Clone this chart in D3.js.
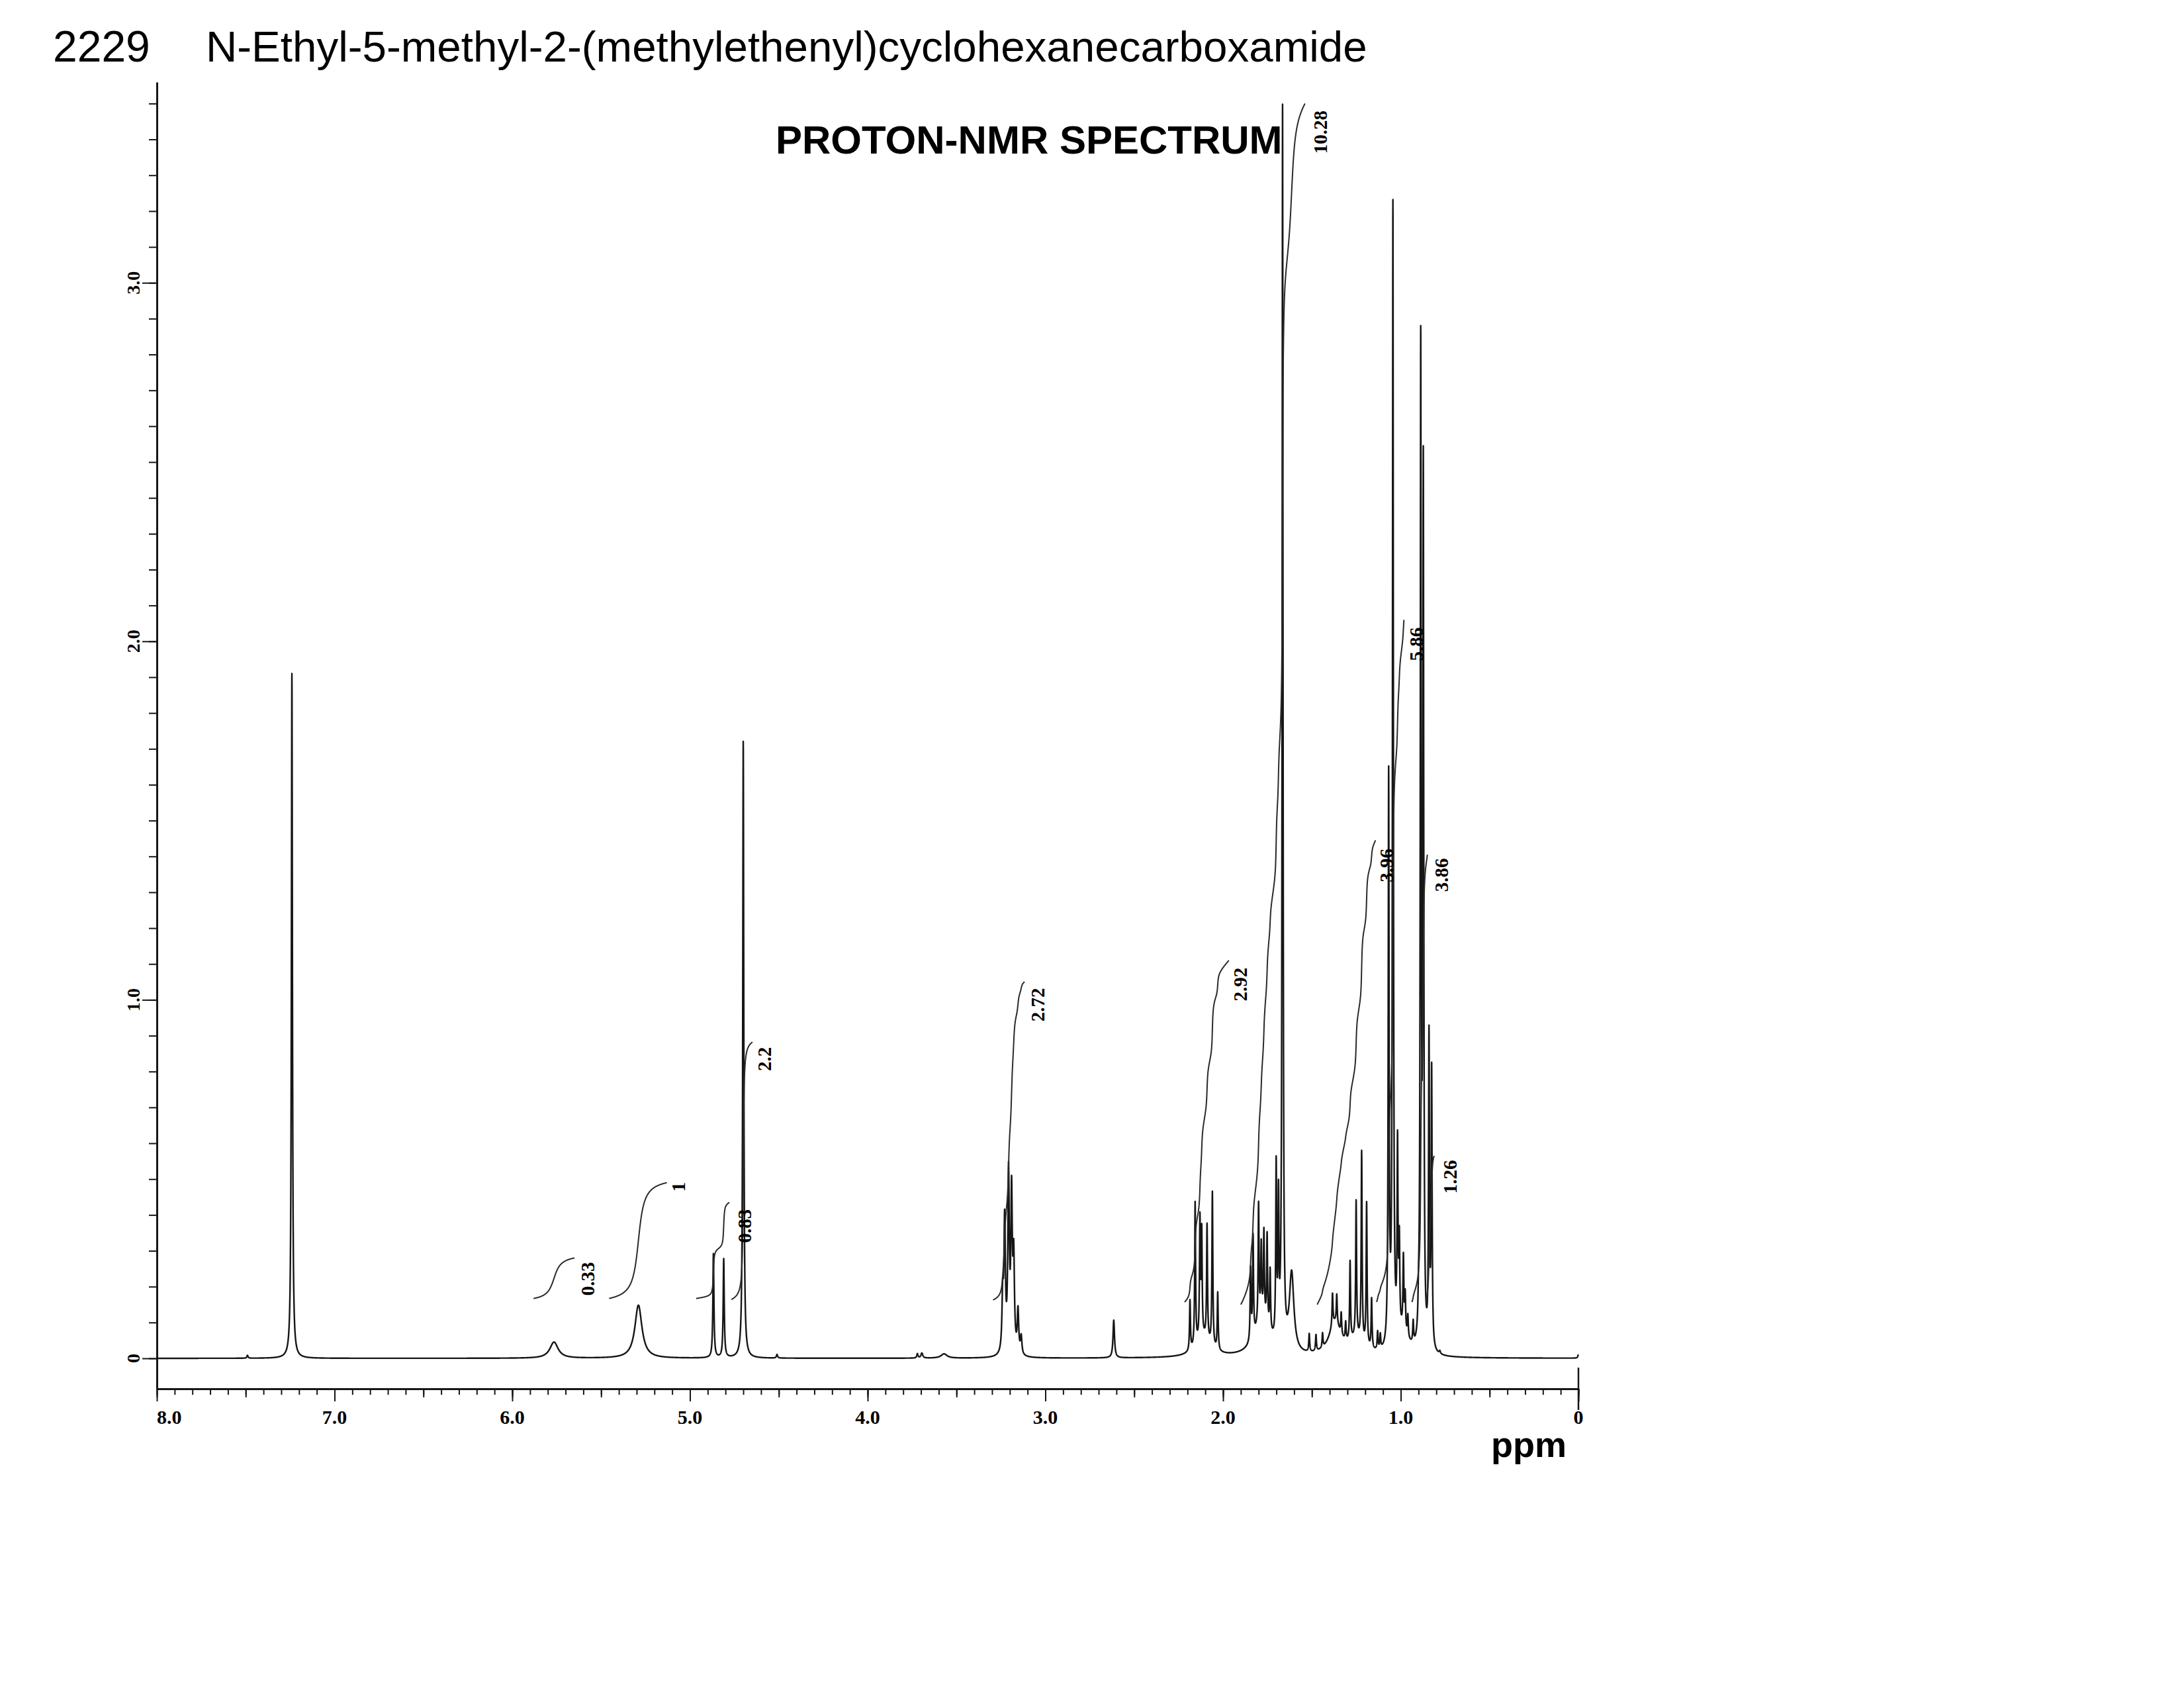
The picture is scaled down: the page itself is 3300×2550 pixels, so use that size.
<!DOCTYPE html>
<html>
<head>
<meta charset="utf-8">
<script src="https://cdn.jsdelivr.net/npm/d3@7"></script>
<style>
  body { margin: 0; background: #fff; }
  svg { display: block; }
</style>
</head>
<body>
<div id="chart"></div>
<script>
const width = 3300;
const height = 2550;

// --- data ---
const compoundId = "2229";
const compoundName = "N-Ethyl-5-methyl-2-(methylethenyl)cyclohexanecarboxamide";
const spectrumTitle = "PROTON-NMR SPECTRUM";
const unitLabel = "ppm";

// peak list: position (ppm), height (intensity units), half width (ppm)
const peakPpm = [7.49, 7.24, 5.765, 5.29, 4.868, 4.81, 4.70, 4.51, 3.72, 3.695, 3.57,
  3.24, 3.229, 3.207, 3.19, 3.178, 3.154, 3.136, 2.615,
  2.186, 2.157, 2.13, 2.12, 2.09, 2.06, 2.03, 2.11,
  1.845, 1.831, 1.80, 1.785, 1.77, 1.752, 1.735, 1.78, 1.701, 1.688, 1.665, 1.614,
  1.515, 1.477, 1.44, 1.384, 1.36, 1.335, 1.31, 1.37,
  1.285, 1.251, 1.22, 1.192, 1.164, 1.25, 1.13, 1.115,
  1.068, 1.044, 1.018, 1.008, 0.985, 0.975, 0.96, 0.93, 0.90, 0.99,
  0.8875, 0.873, 0.841, 0.826, 0.78, 0.0];
const peakHeight = [0.008, 1.91, 0.045, 0.148, 0.29, 0.275, 1.72, 0.01, 0.012, 0.014, 0.012,
  0.15, 0.36, 0.49, 0.43, 0.25, 0.12, 0.05, 0.105,
  0.14, 0.40, 0.33, 0.29, 0.32, 0.43, 0.16, 0.05,
  0.2, 0.28, 0.33, 0.20, 0.24, 0.25, 0.17, 0.10, 0.48, 0.38, 3.45, 0.22,
  0.05, 0.045, 0.04, 0.09, 0.08, 0.06, 0.05, 0.09,
  0.22, 0.38, 0.53, 0.40, 0.14, 0.04, 0.05, 0.04,
  1.58, 3.17, 0.52, 0.24, 0.2, 0.1, 0.06, 0.06, 0.06, 0.06,
  2.76, 2.41, 0.86, 0.77, 0.008, 0.01];
const peakHalfWidth = [0.004, 0.0035, 0.028, 0.024, 0.0035, 0.0035, 0.0035, 0.004, 0.004, 0.006, 0.02,
  0.0048, 0.0048, 0.0048, 0.0048, 0.0048, 0.0048, 0.0048, 0.005,
  0.003, 0.003, 0.003, 0.003, 0.003, 0.003, 0.003, 0.05,
  0.003, 0.003, 0.003, 0.003, 0.003, 0.003, 0.003, 0.05, 0.003, 0.003, 0.003, 0.015,
  0.003, 0.003, 0.003, 0.003, 0.003, 0.003, 0.003, 0.04,
  0.003, 0.003, 0.003, 0.003, 0.003, 0.05, 0.003, 0.003,
  0.003, 0.003, 0.003, 0.003, 0.003, 0.003, 0.003, 0.003, 0.003, 0.04,
  0.003, 0.003, 0.003, 0.003, 0.004, 0.004];

// integral traces: ppm range, trace level at start and end, label and where it sits
const integralStart = [5.88, 5.455, 4.965, 4.767, 3.294, 2.216, 1.90, 1.47, 1.136, 0.937, 0.857];
const integralEnd = [5.65, 5.13, 4.778, 4.648, 3.117, 1.967, 1.539, 1.142, 0.982, 0.85, 0.812];
const integralFrom = [0.167, 0.167, 0.167, 0.164, 0.163, 0.157, 0.15, 0.15, 0.157, 0.157, 0.157];
const integralTo = [0.28, 0.49, 0.435, 0.882, 1.05, 1.11, 3.5, 1.445, 2.06, 1.405, 0.565];
const integralLabel = ["0.33", "1", "0.83", "2.2", "2.72", "2.92", "10.28", "3.96", "5.86", "3.86", "1.26"];
const integralLabelPpm = [5.575, 5.065, 4.692, 4.58, 3.043, 1.905, 1.452, 1.08, 0.912, 0.771, 0.722];
const integralLabelValue = [0.222, 0.478, 0.369, 0.835, 0.986, 1.043, 3.42, 1.375, 1.992, 1.348, 0.506];

const xMajorTicks = [8, 7, 6, 5, 4, 3, 2, 1, 0];
const xMajorLabels = ["8.0", "7.0", "6.0", "5.0", "4.0", "3.0", "2.0", "1.0", "0"];
const yMajorTicks = [0, 1, 2, 3];
const yMajorLabels = ["0", "1.0", "2.0", "3.0"];

// --- drawing ---
const sansFont = "'Liberation Sans', Arial, sans-serif";
const serifFont = "'Liberation Serif', 'Times New Roman', serif";
const ink = "#161616";

const svg = d3.select('#chart')
              .append('svg')
              .attr('width', width)
              .attr('height', height);
svg.append('rect').attr('width', width).attr('height', height).attr('fill', '#fff');

const x = d3.scaleLinear().domain([8, 0]).range([237, 2385]);
const y = d3.scaleLinear().domain([0, 3.5]).range([2052, 156.4]);
const axisY = 2098;

function intensity(p) {
    let s = 0;
    for (let i = 0; i < peakPpm.length; i++) {
        const d = p - peakPpm[i], g = peakHalfWidth[i];
        s += peakHeight[i] * g * g / (d * d + g * g);
    }
    return s;
}

const step = 0.0004;
let grid = d3.range(0, 8 + step / 2, step).concat(peakPpm);
grid = Array.from(new Set(grid.map(p => +p.toFixed(5)))).sort((a, b) => b - a);
const spectrum = grid.map(p => [p, intensity(p)]);

const line = d3.line().x(d => x(d[0])).y(d => y(d[1]));

// title block
svg.append('text')
   .attr('x', 80).attr('y', 93)
   .style('font-family', sansFont).style('font-size', '66px').attr('fill', '#000')
   .text(compoundId);
svg.append('text')
   .attr('x', 311).attr('y', 93)
   .style('font-family', sansFont).style('font-size', '65.5px').attr('fill', '#000')
   .text(compoundName);
svg.append('text')
   .attr('x', 1172).attr('y', 232)
   .style('font-family', sansFont).style('font-size', '60px').style('font-weight', 'bold')
   .attr('fill', '#000')
   .text(spectrumTitle);
svg.append('text')
   .attr('x', 2253).attr('y', 2201)
   .style('font-family', sansFont).style('font-size', '54px').style('font-weight', 'bold')
   .attr('fill', '#000')
   .text(unitLabel);

// x axis
const xMinor = d3.range(0, 81).map(i => i / 10);
const xHalf = d3.range(0, 17).map(i => i / 2);
const xAxisG = svg.append('g').attr('transform', `translate(0,${axisY})`);
xAxisG.append('g').call(d3.axisBottom(x).tickValues(xMinor).tickSize(9).tickSizeOuter(0).tickFormat(''));
xAxisG.append('g').call(d3.axisBottom(x).tickValues(xHalf).tickSize(13).tickFormat(''))
      .select('.domain').remove();
xAxisG.append('g').call(d3.axisBottom(x).tickValues(xMajorTicks).tickSize(19).tickFormat(''))
      .select('.domain').remove();
xAxisG.selectAll('.domain').attr('stroke', ink).attr('stroke-width', 3);
xAxisG.selectAll('.tick line').attr('stroke', ink).attr('stroke-width', 2);

svg.append('line')
   .attr('x1', x(0)).attr('x2', x(0))
   .attr('y1', axisY - 32).attr('y2', axisY + 32)
   .attr('stroke', ink).attr('stroke-width', 2.5);

svg.append('g').selectAll('text')
   .data(xMajorTicks)
   .join('text')
   .attr('x', d => x(d))
   .attr('y', 2151)
   .attr('text-anchor', (d, i) => i === 0 ? 'start' : 'middle')
   .style('font-family', serifFont).style('font-size', '30px').style('font-weight', 'bold')
   .attr('fill', '#000')
   .text((d, i) => xMajorLabels[i]);

// y axis
const yAxisScale = d3.scaleLinear()
                     .domain([y.invert(axisY), 3.56])
                     .range([axisY, y(3.56)]);
const yMinor = d3.range(0, 36).map(i => i / 10);
const yAxisG = svg.append('g').attr('transform', `translate(${x(8)},0)`);
yAxisG.append('g').call(d3.axisLeft(yAxisScale).tickValues(yMinor).tickSize(12).tickSizeOuter(0).tickFormat(''));
yAxisG.append('g').call(d3.axisLeft(yAxisScale).tickValues(yMajorTicks).tickSize(22).tickFormat(''))
      .select('.domain').remove();
yAxisG.selectAll('.domain').attr('stroke', ink).attr('stroke-width', 3);
yAxisG.selectAll('.tick line').attr('stroke', ink).attr('stroke-width', 2);

svg.append('g').selectAll('text')
   .data(yMajorTicks)
   .join('text')
   .attr('transform', d => `translate(201,${y(d)}) rotate(-90)`)
   .attr('text-anchor', 'middle')
   .attr('dy', '0.35em')
   .style('font-family', serifFont).style('font-size', '28px').style('font-weight', 'bold')
   .attr('fill', '#000')
   .text((d, i) => yMajorLabels[i]);

// spectrum trace
svg.append('path')
   .datum(spectrum)
   .attr('d', line)
   .attr('fill', 'none')
   .attr('stroke', ink)
   .attr('stroke-width', 2.4)
   .attr('stroke-linejoin', 'round');

// integral traces
function integralTrace(i) {
    const p0 = integralStart[i], p1 = integralEnd[i];
    const n = Math.ceil((p0 - p1) / step);
    const raw = [[p0, 0]];
    let acc = 0, prev = intensity(p0);
    for (let k = 1; k <= n; k++) {
        const p = p0 - (p0 - p1) * k / n;
        const v = intensity(p);
        acc += (prev + v) / 2;
        prev = v;
        raw.push([p, acc]);
    }
    return raw.map(d => [d[0], integralFrom[i] + (integralTo[i] - integralFrom[i]) * d[1] / acc]);
}

svg.append('g').selectAll('path')
   .data(integralStart.map((d, i) => integralTrace(i)))
   .join('path')
   .attr('d', line)
   .attr('fill', 'none')
   .attr('stroke', '#2a2a2a')
   .attr('stroke-width', 2);

svg.append('g').selectAll('text')
   .data(integralLabel)
   .join('text')
   .attr('transform', (d, i) => `translate(${x(integralLabelPpm[i])},${y(integralLabelValue[i])}) rotate(-90)`)
   .attr('text-anchor', 'middle')
   .attr('dy', '0.35em')
   .style('font-family', serifFont).style('font-size', '29px').style('font-weight', 'bold')
   .attr('fill', '#000')
   .text(d => d);
</script>
</body>
</html>
